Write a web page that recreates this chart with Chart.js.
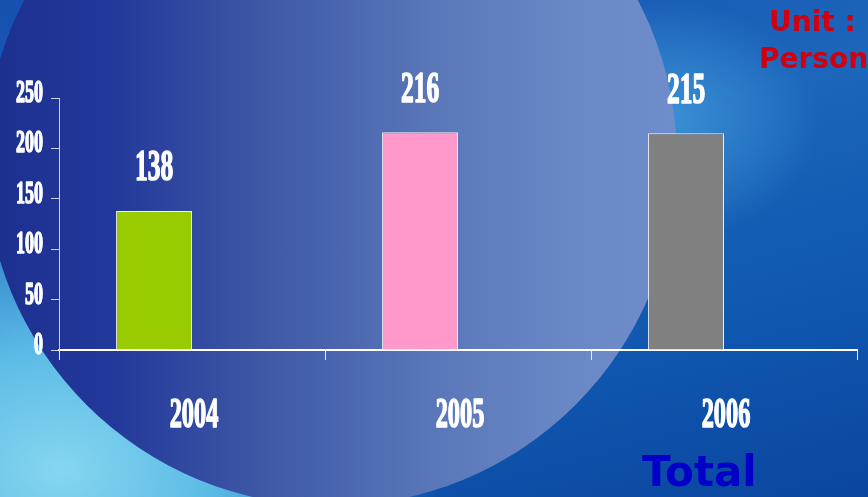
<!DOCTYPE html>
<html>
<head>
<meta charset="utf-8">
<script src="https://cdn.jsdelivr.net/npm/chart.js@4"></script>
<style>
  html, body { margin: 0; padding: 0; }
  body {
    width: 868px; height: 497px; overflow: hidden; position: relative;
    background:
      radial-gradient(ellipse 380px 300px at 60px 470px, #86d6f0 0%, #5cbbe6 40%, rgba(40,130,210,0) 100%),
      radial-gradient(ellipse 160px 120px at 660px 120px, #3c92d6 0%, rgba(40,120,200,0) 100%),
      linear-gradient(165deg, #1650b0 0%, #1c66bb 40%, #1058b0 70%, #0a46a0 100%);
  }
  .circle {
    position: absolute; left: -15px; top: -186px; width: 692px; height: 692px;
    border-radius: 50%;
    background: linear-gradient(90deg, #1b2f8e 0%, #22389a 18%, #3e58a6 40%, #5a77b9 65%, #6a88c6 85%, #6e8dca 100%);
  }
  #wrap { position: absolute; left: 0; top: 0; width: 868px; height: 497px; }
  .unit { position: absolute; color: #d00010; font: bold 28px "DejaVu Sans"; line-height: 1; }
  .total { position: absolute; left: 642px; top: 451px; color: #0000c8; font: bold 42px "DejaVu Sans"; line-height: 1; }
</style>
</head>
<body>
<div class="circle"></div>
<div id="wrap"><canvas id="chart"></canvas></div>
<span class="unit" style="left:769px;top:8px">Unit :</span>
<span class="unit" style="left:759px;top:45px">Person</span>
<span class="total">Total</span>
<script>
const years = ['2004', '2005', '2006'];
const persons = [138, 216, 215];
const barColors = ['#99cc00', '#ff99cc', '#808080'];
const yTicks = [0, 50, 100, 150, 200, 250];

// the original numbers are a heavy, squeezed serif: draw them narrowed
function drawSqueezed(ctx, text, px, py, size, align) {
  ctx.save();
  ctx.translate(px, py);
  ctx.scale(0.58, 1);
  ctx.font = 'bold ' + size + 'px "Liberation Serif"';
  ctx.fillStyle = '#ffffff';
  ctx.strokeStyle = '#ffffff';
  ctx.lineWidth = 1.6;
  ctx.lineJoin = 'round';
  ctx.textAlign = align;
  ctx.textBaseline = 'middle';
  ctx.strokeText(text, 0, 0);
  ctx.fillText(text, 0, 0);
  ctx.restore();
}

const labelPlugin = {
  id: 'labelPlugin',
  afterDraw(chart) {
    const ctx = chart.ctx;
    const xs = chart.scales.x, ys = chart.scales.y;
    yTicks.forEach(v => drawSqueezed(ctx, String(v), 43, ys.getPixelForValue(v) - 4, 31, 'right'));
    years.forEach((yr, i) => drawSqueezed(ctx, yr, xs.getPixelForTick(i) + 2, 416, 42, 'center'));
    chart.getDatasetMeta(0).data.forEach((bar, i) => {
      drawSqueezed(ctx, String(persons[i]), bar.x, bar.y - 42, 44, 'center');
    });
  }
};

new Chart(document.getElementById('chart'), {
  type: 'bar',
  data: {
    labels: years,
    datasets: [
      { data: persons, backgroundColor: barColors, borderColor: '#f0f0f0', borderWidth: 1 },
      { data: [null, null, null] }
    ]
  },
  options: {
    responsive: true,
    maintainAspectRatio: false,
    animation: false,
    categoryPercentage: 0.571,
    barPercentage: 1.0,
    layout: { padding: { left: 51, right: 11, top: 98, bottom: 137 } },
    plugins: { legend: { display: false }, tooltip: { enabled: false } },
    scales: {
      x: {
        ticks: { display: false },
        grid: { offset: true, drawOnChartArea: false, tickLength: 10, color: '#e8ecf4', lineWidth: 1 },
        border: { color: '#ffffff', width: 2 }
      },
      y: {
        min: 0, max: 250,
        ticks: { display: false, stepSize: 50 },
        grid: { drawOnChartArea: false, tickLength: 8, color: '#c8d2e6', lineWidth: 1 },
        border: { color: '#c8d2e6', width: 1 }
      }
    }
  },
  plugins: [labelPlugin]
});
</script>
</body>
</html>
